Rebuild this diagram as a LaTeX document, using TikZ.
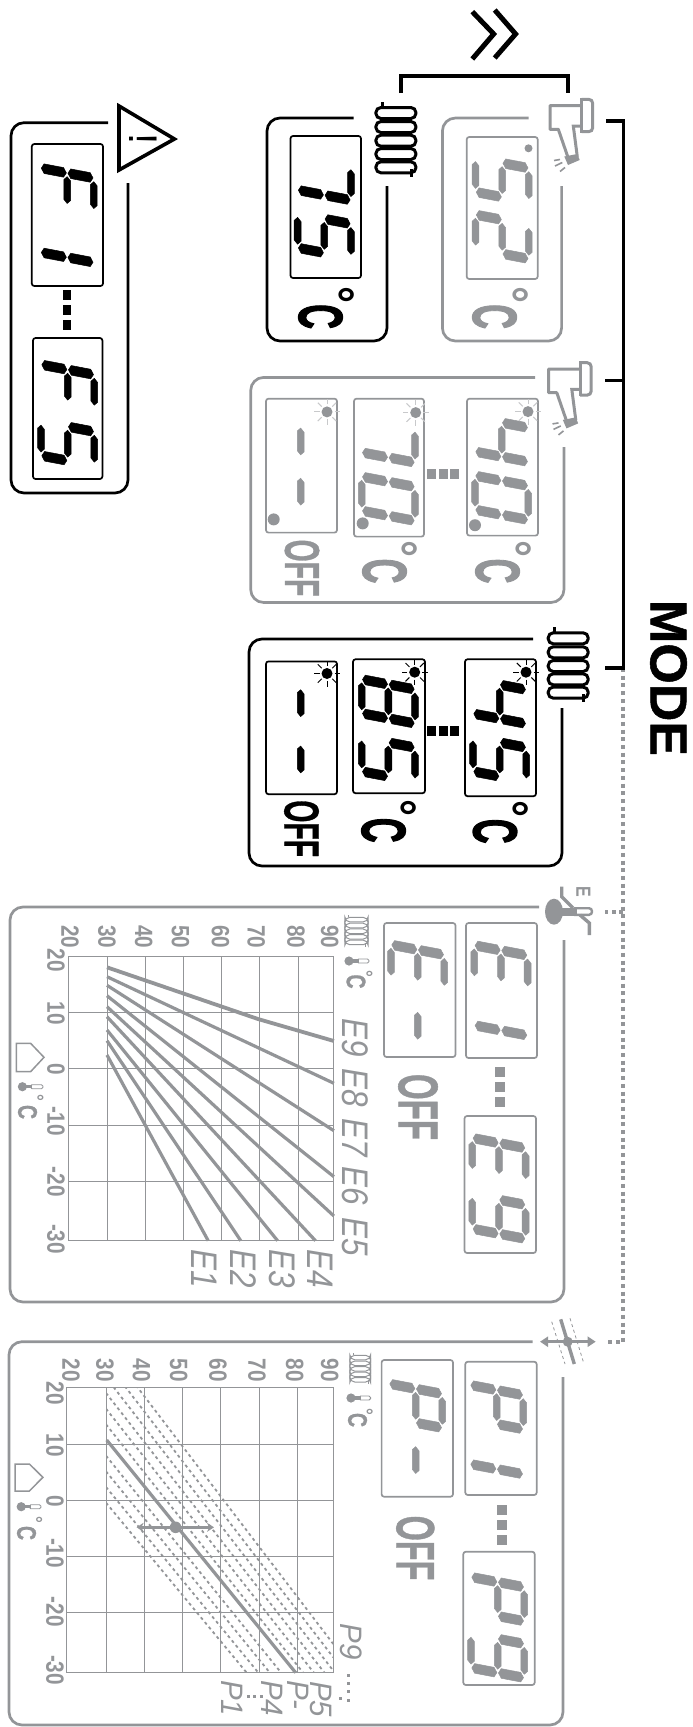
\documentclass[tikz,border=0pt]{standalone}
\usepackage{graphicx}
\usepackage{fontspec}
\setmainfont{Liberation Sans}
\newfontfamily\heavyfont[BoldFeatures={FakeBold=2.5}]{Liberation Sans}
\newfontfamily\medfont[BoldFeatures={FakeBold=1}]{Liberation Sans}
\usetikzlibrary{arrows.meta,calc}
\definecolor{gry}{HTML}{939598}
\definecolor{gryl}{HTML}{C8C9CB}
\newcount\nodecnt
% ---- seven segment parts, local u (digit right), v (digit up)
\newcommand{\hs}[1]{\filldraw (3.6,#1)--(7.2,#1+3.4)--(26.8,#1+3.4)--(30.4,#1)--(26.8,#1-3.4)--(7.2,#1-3.4)--cycle;}
\newcommand{\vs}[3]{\filldraw (#1,#2+.8)--(#1+4.8,#2+3.6)--(#1+4.8,#3-3.6)--(#1,#3-.8)--(#1-4.8,#3-3.6)--(#1-4.8,#2+3.6)--cycle;}
\newcommand{\sa}{\hs{53.3}}\newcommand{\sg}{\hs{26.65}}\newcommand{\sd}{\hs{0}}
\newcommand{\sF}{\vs{0}{26.65}{53.3}}\newcommand{\sE}{\vs{0}{0}{26.65}}
\newcommand{\sB}{\vs{34}{26.65}{53.3}}\newcommand{\sC}{\vs{34}{0}{26.65}}
\newcommand{\lcdglyph}[4]{\begin{scope}[shift={(#1,#2+2)},x={(0pt,-1pt)},y={(1pt,-0.19pt)},color=#3,line width=.5pt]#4\end{scope}}
\newcommand{\gZero}{\sa\sB\sC\sd\sE\sF}
\newcommand{\gOne}{\sB\sC}
\newcommand{\gTwo}{\sa\sB\sg\sE\sd}
\newcommand{\gFour}{\sF\sg\sB\sC}
\newcommand{\gFive}{\sa\sF\sg\sC\sd}
\newcommand{\gSeven}{\sa\sB\sC}
\newcommand{\gEight}{\sa\sB\sC\sd\sE\sF\sg}
\newcommand{\gNine}{\sa\sB\sC\sd\sF\sg}
\newcommand{\gLE}{\sa\sF\sg\sE\sd}
\newcommand{\gLF}{\sa\sF\sg\sE}
\newcommand{\gLP}{\sa\sB\sE\sF\sg}
\newcommand{\gDash}{\sg}
% ---- text, rotated with the whole figure
\newcommand{\rtxt}[7]{\global\advance\nodecnt by 1
 \node[rotate=-90,inner sep=0pt,text=#5,font=\fontsize{#3}{#3}\selectfont#6] (t\the\nodecnt) at (#1,#2) {\scalebox{#4}[1]{#7}};}
\newcommand{\Cdeg}[5]{\rtxt{#1}{#2}{62}{.55}{#5}{\heavyfont\bfseries}{C}\rtxt{#3-8}{#4}{50}{.85}{#5}{\bfseries}{°}}
\newcommand{\cdegsmall}[5]{\rtxt{#1}{#2}{27}{.72}{gry}{\medfont\bfseries}{C}\rtxt{#3-3.5}{#4}{20}{.85}{gry}{\bfseries}{°}}
% ---- boxes
\newcommand{\lcdbox}[5]{\global\advance\nodecnt by 1
 \node[draw=#5,line width=1.7pt,rounded corners=2.5pt,inner sep=0pt,minimum width=#2pt-#1pt,minimum height=#4pt-#3pt] (b\the\nodecnt) at ({(#1+#2)/2},{(#3+#4)/2}) {};}
\newcommand{\panel}[7]{\draw[#7,line width=2.7pt,rounded corners=13pt] (#5,#3) -| (#1,#4) -| (#2,#6);}
\newcommand{\dotsh}[4]{\foreach \d in {0,1,2}{\fill[#4] ({#1+\d*11.5},#2) rectangle ++(9,#3);}}
\newcommand{\dotsv}[4]{\foreach \d in {0,1,2}{\fill[#4] (#1,{#2+\d*15}) rectangle ++(#3,10);}}
\newcommand{\sun}[4]{\foreach \a in {0,45,...,315}{\draw[#4,line width=1pt] ($(#1,#2)+(\a:7.5)$) -- ($(#1,#2)+(\a:13)$);}\fill[#3] (#1,#2) circle (5.5);}
\newcommand{\coil}[6]{\begin{scope}[shift={(#1,#2)},xscale=#3,yscale=#4,line width=#5,#6]
 \foreach \c in {11,25,38.7,52,65.3}{\draw[rounded corners=5pt] (1.5,\c-5.5) rectangle (41.5,\c+5.5);}
 \draw (8,0) -- (8,5); \draw (37,67) -- (37,75);\end{scope}}
\newcommand{\gun}[2]{\begin{scope}[shift={(#1,#2)},gry,line width=3pt]
 \draw[line join=round] (50.7,15.7) -- (20,15.7) -- (20,39.3) -- (28.3,39.3) -- (38.3,68.3);
 \draw (47.3,66.7) -- (43.3,36) -- (50.7,36);
 \fill[gry] (34.3,66.5) -- (47.3,64) -- (49.7,70) -- (38,75) -- cycle;
 \draw[rounded corners=4pt] (51.5,9.3) -- (62.7,9.3) -- (62.7,41.7) -- (51.5,41.7);
 \draw (51.5,8) -- (51.5,43);
 \draw[line width=1.6pt] (24,70.5) -- (30,69.5); \draw[line width=1.6pt] (25,76) -- (32.3,72.5); \draw[line width=1.6pt] (30,81.5) -- (35,77.5);
 \end{scope}}
\newcommand{\thermo}[3]{\fill[gry] (#1,#2) circle (4.6);\fill[gry] (#1,#2-1.6) rectangle (#1+10,#2+1.6);\draw[gry,line width=.9pt,rounded corners=1.5pt] (#1+8,#2-2) rectangle (#3,#2+2);}
\newcommand{\house}[6]{\draw[gry,line width=1.5pt,line join=miter] (#1,#4) -- (#2,#4) -- (#3,#5) -- (#2,#6) -- (#1,#6) -- cycle;}
\newcommand{\gridlines}[2]{\foreach \gx in {#1}{\draw[gridln] (\gx,\gyA) -- (\gx,\gyB);}\foreach \gy in {#2}{\draw[gridln] (\gxA,\gy) -- (\gxB,\gy);}}
\tikzset{
 gridln/.style={gry,line width=1pt},
 curveln/.style={gry,line width=3.2pt},
 dashln/.style={gry,line width=1.8pt,dash pattern=on 3pt off 3.2pt},
 modeln/.style={black,line width=3.6pt},
 dotln/.style={gry,line width=4pt,dash pattern=on 4pt off 3.7pt},
}
\begin{document}
\begin{tikzpicture}[x=1pt,y=-1pt]
\useasboundingbox (0,0) rectangle (693,1727);
% ---------- connectors
\coordinate (chvA1) at (472.3,11.7);\coordinate (chvA2) at (493.7,34);\coordinate (chvA3) at (472.3,59);
\coordinate (chvB1) at (494.7,10);\coordinate (chvB2) at (515.6,34);\coordinate (chvB3) at (494.7,58);
\draw[black,line width=5pt] (chvA1) -- (chvA2) -- (chvA3);
\draw[black,line width=5pt] (chvB1) -- (chvB2) -- (chvB3);
\coordinate (brA) at (401,93);\coordinate (brB) at (401,76);\coordinate (brC) at (568,76);\coordinate (brD) at (568,93);
\draw[modeln] (brA) -- (brB) -- (brC) -- (brD);
\coordinate (mA) at (606,120.7);\coordinate (mAc) at (623.3,120.7);
\coordinate (mB) at (605,380.4);\coordinate (mBc) at (623.3,380.4);
\coordinate (mC) at (605,668);\coordinate (mCc) at (623.3,668);
\draw[dotln] (mCc) -- (623.3,1342) -- (605,1342);
\draw[dotln] (623.3,912) -- (605,912);
\draw[modeln,line join=miter] (mA) -- (mAc) -- (mCc) -- (mC);
\draw[modeln] (mB) -- (mBc);
\rtxt{668.5}{678}{52}{1}{black}{\medfont\bfseries}{MODE}
% ---------- warning
\panel{11}{128}{122.7}{493}{108}{183}{black}
\draw[black,line width=3.6pt] (119,106) -- (174.4,139) -- (119,170) -- cycle;
\rtxt{143}{139}{40}{1}{black}{}{!}
\lcdbox{31.8}{103}{144}{286}{black}\lcdbox{33}{102.4}{338}{479}{black}
\lcdglyph{40.5}{166}{black}{\gLF}\lcdglyph{40.5}{216.3}{black}{\gOne}
\lcdglyph{41}{362.6}{black}{\gLF}\lcdglyph{41}{419.6}{black}{\gFive}
\dotsv{63}{290}{8}{black}
% ---------- heater 75
\coil{374.4}{102}{1}{1}{3pt}{black}
\panel{267}{387}{118}{341}{353.6}{186}{black}
\lcdbox{290.5}{361}{136}{278}{black}
\lcdglyph{297.6}{154}{black}{\gSeven}\lcdglyph{297.6}{211.8}{black}{\gFive}
\Cdeg{320.5}{316.6}{344.4}{295}{black}
% ---------- gun 52
\gun{530}{90}
\panel{442.4}{561.6}{118}{341}{528.5}{186}{gry}
\lcdbox{466.7}{537.7}{137}{279}{gry}
\fill[gry] (528.5,148.3) circle (4);
\lcdglyph{475.5}{156}{gry}{\gFive}\lcdglyph{475.5}{212.7}{gry}{\gTwo}
\Cdeg{494.5}{316.6}{518.8}{295}{gry}
% ---------- gun panel
\gun{528.5}{353.4}
\panel{250.7}{564}{377.4}{602.5}{535}{447}{gry}
\lcdbox{467}{538}{398.7}{535.6}{gry}\lcdbox{354}{424}{398.7}{536.6}{gry}\lcdbox{266}{337}{398.7}{532.6}{gry}
\sun{528}{411.6}{gry}{gryl}\sun{415.7}{412.6}{gry}{gryl}\sun{327}{411.9}{gry}{gryl}
\fill[gry] (475,525.2) circle (6);\fill[gry] (362.7,523.4) circle (6);\fill[gry] (273.7,519.4) circle (6);
\lcdglyph{475}{415.6}{gry}{\gFour}\lcdglyph{475}{473.7}{gry}{\gZero}
\lcdglyph{361.7}{416.4}{gry}{\gSeven}\lcdglyph{361.7}{474.7}{gry}{\gZero}
\lcdglyph{274}{417.4}{gry}{\gDash}\lcdglyph{274}{467.6}{gry}{\gDash}
\dotsh{427}{468.7}{10}{gry}
\Cdeg{497.5}{571}{522}{548.8}{gry}\Cdeg{384.5}{571}{408}{548.8}{gry}
\rtxt{302}{568}{49}{.58}{gry}{\medfont\bfseries}{OFF}
% ---------- heater panel
\coil{546.7}{627.3}{1}{1}{3pt}{black}
\panel{249}{562}{639}{866}{533}{708}{black}
\lcdbox{465}{536}{659.3}{796.2}{black}\lcdbox{353}{425}{659.3}{793.2}{black}\lcdbox{266}{337}{661.4}{794.2}{black}
\sun{526}{672.2}{black}{black}\sun{414.7}{672.2}{black}{black}\sun{327}{673.5}{black}{black}
\lcdglyph{473}{677.6}{black}{\gFour}\lcdglyph{473}{735.4}{black}{\gFive}
\lcdglyph{361.7}{677.3}{black}{\gEight}\lcdglyph{361.7}{735.4}{black}{\gFive}
\lcdglyph{274}{679.1}{black}{\gDash}\lcdglyph{274}{735.4}{black}{\gDash}
\dotsh{427}{726}{10}{black}
\Cdeg{495}{831.2}{519}{809.4}{black}\Cdeg{383.5}{830.2}{407}{808.4}{black}
\rtxt{301.5}{828.7}{49}{.58}{black}{\medfont\bfseries}{OFF}
% ---------- E panel
\fill[gry] (554,911.7) ellipse (9 and 13);
\fill[gry] (554,907.5) rectangle (577,915.5);
\draw[gry,line width=2.4pt,rounded corners=3pt] (574,908.2) -- (592,908.2) -- (592,914.8) -- (574,914.8);
\draw[gry,line width=3.4pt] (561.7,886.7) -- (561.7,896.7) -- (573,908);
\draw[gry,line width=3.4pt] (589.3,935) -- (589.3,923) -- (580,915);
\rtxt{583.3}{891.5}{20.5}{.78}{gry}{\bfseries}{E}
\panel{10}{564}{907}{1302}{539}{940}{gry}
\lcdbox{466}{537}{923}{1058}{gry}\lcdbox{384}{455.5}{923}{1057}{gry}\lcdbox{464.5}{536}{1116}{1253}{gry}
\lcdglyph{474.3}{943.3}{gry}{\gLE}\lcdglyph{474.3}{989.3}{gry}{\gOne}
\lcdglyph{391}{942.7}{gry}{\gLE}\lcdglyph{391}{1001.7}{gry}{\gDash}
\lcdglyph{472.3}{1136}{gry}{\gLE}\lcdglyph{472.3}{1192.7}{gry}{\gNine}
\dotsv{495}{1067}{10}{gry}
\rtxt{418}{1107}{56}{.59}{gry}{\medfont\bfseries}{OFF}
% E graph
\def\gyA{956}\def\gyB{1240.7}\def\gxA{68.6}\def\gxB{333.9}
\gridlines{68.6,107,145.3,183.3,221.6,259.6,298.4,333.9}{956,1012.7,1068.7,1125,1181,1240.7}
\foreach \gx/\lb in {70/20,107/30,143.7/40,180.4/50,220.4/60,256.3/70,296/80,329.8/90}{\rtxt{\gx}{936.7}{25}{.83}{gry}{\bfseries}{\lb}}
\foreach \gy/\lb in {960.5/20,1013/10,1069/0,1121/-10,1181.7/-20,1239/-30}{\rtxt{56}{\gy}{25}{.83}{gry}{\bfseries}{\lb}}
\draw[curveln,line width=3.8pt,line join=round] (107,967.3) -- (258,1019) -- (333.9,1041);
\foreach \a/\b/\c in {976.7/333.9/1083.3,985.3/333.9/1130.7,995.7/333.9/1176.7,1006.7/333.9/1216,1016.7/315.5/1240.7,1030/277.6/1240.7,1040.7/240.8/1240.7,1055/208.2/1240.7}{\draw[curveln] (107,\a) -- (\b,\c);}
\foreach \cx/\cy/\lb in {355/1038/E9,355/1088/E8,355/1138/E7,355/1186/E6,355/1237/E5,320/1269/E4,282/1269/E3,243/1269/E2,204/1269/E1}{\rtxt{\cx}{\cy}{37}{.85}{gry}{\itshape}{\lb}}
\coil{344}{915}{.58}{.42}{1pt}{gry}
\thermo{349}{961}{369}
\cdegsmall{356}{981.5}{369}{974}{}
\house{16.3}{30.6}{44}{1043.3}{1057.3}{1071.7}
\thermo{22.4}{1086.7}{43}
\cdegsmall{27.5}{1112}{40}{1098}{}
% ---------- P panel
\draw[gry,line width=3.4pt] (560.7,1319.3) -- (574.3,1364);
\draw[gry,line width=.8pt,dashed] (551.7,1321.7) -- (565,1364);
\draw[gry,line width=.8pt,dashed] (570,1318.3) -- (583.3,1361.7);
\draw[gry,line width=2.8pt,{Triangle[length=8pt,width=10pt]}-{Triangle[length=8pt,width=10pt]}] (540,1341.7) -- (595.7,1341.7);
\fill[gry] (567.7,1341.7) circle (5);
\panel{9}{563}{1341.7}{1725}{532.7}{1377}{gry}
\lcdbox{465.3}{536.7}{1361.7}{1495}{gry}\lcdbox{381.6}{453}{1360}{1496.7}{gry}\lcdbox{463.3}{534.7}{1551.7}{1685}{gry}
\lcdglyph{470}{1383}{gry}{\gLP}\lcdglyph{470}{1428}{gry}{\gOne}
\lcdglyph{389}{1381.7}{gry}{\gLP}\lcdglyph{389}{1436}{gry}{\gDash}
\lcdglyph{471}{1575}{gry}{\gLP}\lcdglyph{471}{1631.7}{gry}{\gNine}
\dotsv{497}{1505}{10}{gry}
\rtxt{415.3}{1548}{54}{.6}{gry}{\medfont\bfseries}{OFF}
% P graph
\def\gyA{1387.3}\def\gyB{1672.7}\def\gxA{66.5}\def\gxB{333.3}
\gridlines{66.5,106,144,182.3,220.7,259,297,333.3}{1387.3,1444.3,1500.7,1556.7,1612.7,1672.7}
\foreach \gx/\lb in {71/20,105/30,141.6/40,178.8/50,218/60,257/70,294.7/80,329.8/90}{\rtxt{\gx}{1370}{25}{.83}{gry}{\bfseries}{\lb}}
\foreach \gy/\lb in {1393.3/20,1445/10,1501/0,1553/-10,1611.7/-20,1670/-30}{\rtxt{55}{\gy}{25}{.83}{gry}{\bfseries}{\lb}}
\begin{scope}
\clip (106,1387.3) rectangle (333.3,1672.7);
\foreach \k in {-4,-3,-2,-1,1,2,3,4,5,6}{\draw[dashln] (106,{1440-15.67*\k}) -- (333.3,{1724-13.33*\k});}
\end{scope}
\draw[curveln] (106.7,1440) -- (295.7,1672.7);
\draw[gry,line width=2.6pt,{Stealth[length=7pt,width=9pt]}-{Stealth[length=7pt,width=9pt]}] (136.6,1527.3) -- (214,1527.3);
\fill[gry] (175.6,1527.3) circle (5.8);
\coil{349}{1353}{.52}{.41}{1pt}{gry}
\thermo{351}{1398}{370.6}
\cdegsmall{357.5}{1420}{369.4}{1411.7}{}
\house{15.1}{29.4}{42.9}{1464}{1477.3}{1491}
\thermo{21.2}{1506.7}{41}
\cdegsmall{26.5}{1533}{38.8}{1520}{}
\foreach \cx/\cy/\lb in {350.7/1641.7/P9,321/1699/P5,297.7/1695/P-,271.7/1698/P4,232/1698/P1}{\rtxt{\cx}{\cy}{31}{.95}{gry}{\itshape}{\lb}}
\foreach \d in {0,1,2,3}{\fill[gry] (346.5,{1673.5+\d*8.4}) rectangle ++(3,3);}
\fill[gry] (338.7,1697) rectangle ++(3,3);
\foreach \d in {0,1,2}{\fill[gry] ({246.5+\d*6.7},1695) rectangle ++(3,3);}
\end{tikzpicture}
\end{document}
